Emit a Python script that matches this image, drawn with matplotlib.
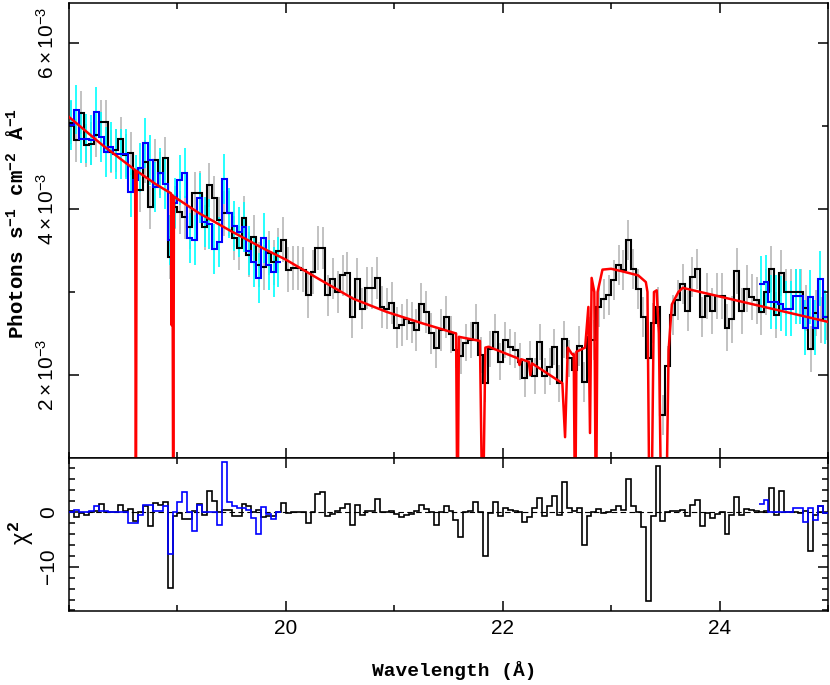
import numpy as np
import matplotlib
matplotlib.use('Agg')
import matplotlib.pyplot as plt
from matplotlib.ticker import FixedLocator, MultipleLocator

plt.rcParams.update({
    'font.family': ['Liberation Sans', 'DejaVu Sans'],
    'mathtext.fontset': 'custom',
    'mathtext.rm': 'Liberation Mono:bold',
    'mathtext.bf': 'Liberation Mono:bold',
    'mathtext.it': 'Liberation Sans',
    'mathtext.sf': 'Liberation Sans',
    'axes.linewidth': 1.1,
    'xtick.direction': 'in',
    'ytick.direction': 'in',
    'xtick.top': True,
    'ytick.right': True,
})

# wavelength grid (Angstrom)
wave_min, wave_max = 18.0, 25.0
n_bins = 154

# instrument 1 (black), flux in 1e-3 photons/s/cm2/A
black_flux = [
    5.04, 4.83, 5.16, 4.77, 4.79, 4.89, 5.05, 5.05, 4.69, 4.71,
    4.85, 4.65, 4.67, 4.23, 4.23, 4.57, 4.02, 4.59, 4.43, 4.61,
    3.42, 4.02, 3.96, 3.90, 3.78, 4.19, 4.19, 3.78, 4.29, 4.13,
    3.87, 3.95, 3.95, 3.65, 3.53, 3.89, 3.45, 3.66, 3.33, 3.30,
    3.47, 3.36, 3.50, 3.63, 3.27, 3.29, 3.29, 3.27, 2.96, 3.24,
    3.53, 3.53, 2.96, 3.16, 3.00, 3.20, 3.23, 2.70, 3.16, 2.80,
    3.05, 3.05, 3.17, 2.82, 2.80, 2.87, 2.57, 2.60, 2.67, 2.63,
    2.54, 2.86, 2.76, 2.50, 2.33, 2.54, 2.70, 2.49, 2.30, 2.23,
    2.39, 2.42, 2.63, 2.24, 1.90, 2.31, 2.52, 2.16, 2.42, 2.34,
    2.30, 2.16, 1.96, 2.19, 1.99, 2.40, 1.99, 2.10, 2.34, 1.90,
    2.43, 2.20, 2.06, 2.35, 1.92, 2.46, 2.42, 2.82, 2.92, 2.96,
    3.14, 3.33, 3.27, 3.63, 3.28, 3.04, 2.70, 2.20, 2.63, 2.82,
    1.52, 2.11, 2.72, 2.90, 3.10, 2.77, 3.18, 3.28, 2.70, 2.95,
    2.77, 2.95, 2.95, 2.57, 2.67, 3.25, 2.77, 3.04, 2.94, 2.90,
    2.76, 3.00, 3.28, 2.72, 3.23, 3.00, 3.00, 3.00, 3.00, 2.81,
    2.31, 2.75, 2.66, 2.70,
]
black_err = [0.26] * 26 + [0.27] * 25 + [0.25] * 26 + [0.22] * 26 + [0.24] * 26 + [0.28] * 25
black_chi = [
    0.1, -0.9, -0.2, -0.5, 0.0, 0.1, 1.5, 0.0, 0.0, 0.0,
    1.3, 0.2, 0.5, -1.7, 0.0, 1.0, -2.5, 1.6, 1.2, 1.8,
    -13.9, -0.7, -0.2, -1.2, -1.2, 0.2, 1.5, -0.5, 3.9, 2.0,
    0.0, 0.4, 0.4, -0.8, -0.8, 1.5, 1.0, 0.0, 0.3, -0.9,
    -0.8, -0.8, 0.0, 1.6, -0.2, 0.0, 0.0, 0.0, -2.1, 0.0,
    3.2, 3.6, -0.8, -0.3, 0.2, 0.7, 1.5, -2.3, 1.3, -0.5,
    0.2, 0.2, 2.4, 0.0, 0.0, 0.2, -0.3, -0.9, -0.5, -0.3,
    0.1, 1.3, 0.5, 0.0, -2.3, 0.0, 1.0, 0.1, -1.4, -4.5,
    0.0, 0.1, 1.8, 0.0, -8.1, -0.2, 1.8, -0.7, 0.7, 0.3,
    0.1, 0.0, -1.8, -0.9, 0.7, 2.6, -0.7, 1.0, 3.0, -0.5,
    5.4, 0.7, 0.2, 0.7, -6.0, -0.7, 0.0, 0.5, -0.2, 0.0,
    0.4, 1.0, 0.3, 6.0, 1.0, 0.0, -2.8, -16.2, -0.7, 8.4,
    -1.7, 0.0, 0.1, 0.1, 0.4, -0.8, 1.2, 2.1, -2.5, -0.2,
    -1.1, -0.3, 0.0, -4.1, -0.5, 2.7, -0.5, 0.5, 0.3, 0.1,
    0.0, 0.2, 4.4, -0.5, 3.8, 0.0, 0.0, 0.0, -0.2, 0.2,
    -7.2, -0.5, 1.0, -0.2,
]

# instrument 2 (blue), two stretches
blue_left_start = 18.0
blue_left_flux = [
    5.01, 5.20, 4.85, 4.85, 4.83, 5.17, 4.87, 4.69, 4.75, 4.66,
    4.66, 4.66, 4.20, 4.35, 4.50, 4.80, 4.59, 4.27, 4.43, 4.30,
    3.63, 4.07, 4.35, 4.43, 3.65, 3.63, 4.13, 3.84, 3.82, 3.52,
    3.60, 4.36, 3.95, 3.80, 3.72, 3.78, 3.50, 3.36, 3.17, 3.65,
    3.33, 3.24, 3.36,
]
blue_left_err = [0.30] * 43
blue_left_chi = [
    0.0, 0.4, 0.0, 0.0, 0.2, 1.0, 0.2, 0.2, 0.0, 0.0,
    0.0, 0.0, -2.1, -2.1, -0.5, 1.2, 1.2, 0.2, 0.2, 1.0,
    -7.7, 0.0, 1.8, 3.7, 0.0, -3.4, 1.2, 0.0, 0.0, 0.0,
    -2.3, 9.1, 1.8, 1.0, 0.7, 0.7, 0.4, -1.1, -4.0, 0.9,
    -0.3, -1.2, 0.0,
]
blue_right_start = 24.36
blue_right_flux = [3.10, 3.12, 2.88, 2.88, 2.86, 2.80, 2.80, 2.95, 2.95, 2.57, 2.94, 2.57, 3.16, 2.70]
blue_right_err = [0.33] * 14
blue_right_chi = [1.4, 2.1, 0.0, 0.0, 0.0, 0.0, 0.0, 0.7, 0.7, -1.9, 0.7, -1.4, 1.0, -0.2]

# best-fit model (red)
model_wave = [
    18.00, 18.30, 18.610, 18.617, 18.624, 18.80, 18.940, 18.947, 18.954, 18.961,
    18.968, 19.20, 19.50, 19.80, 20.00, 20.30, 20.62, 20.93, 21.24, 21.570,
    21.583, 21.596, 21.790, 21.815, 21.840, 21.87, 22.14, 22.155, 22.17, 22.24,
    22.255, 22.27, 22.55, 22.575, 22.60, 22.64, 22.655, 22.668, 22.68, 22.76,
    22.79, 22.805, 22.82, 22.845, 22.860, 22.875, 22.92, 23.00, 23.10, 23.25,
    23.32, 23.335, 23.355, 23.37, 23.395, 23.42, 23.44, 23.465, 23.505, 23.53,
    23.56, 23.62, 23.66, 25.00,
]
model_flux = [
    5.11, 4.78, 4.47, 0.0, 4.46, 4.30, 4.19, 2.60, 4.17, 0.0,
    4.15, 3.95, 3.73, 3.52, 3.39, 3.16, 2.92, 2.76, 2.63, 2.50,
    0.0, 2.46, 2.41, 0.0, 2.33, 2.34, 2.20, 2.12, 2.19, 2.16,
    2.00, 2.14, 1.90, 1.25, 2.33, 2.25, 2.25, 0.0, 2.28, 2.33,
    2.82, 1.30, 3.17, 3.00, 0.0, 3.00, 3.27, 3.28, 3.25, 3.20,
    3.12, 3.00, 0.0, 0.0, 3.00, 3.02, 2.50, 0.0, 0.0, 2.30,
    2.85, 3.00, 3.05, 2.64,
]

scale = 1e-3
width = (wave_max - wave_min) / n_bins
edges = np.linspace(wave_min, wave_max, n_bins + 1)
centers = 0.5 * (edges[:-1] + edges[1:])


def seg_edges(start, n):
    return start + width * np.arange(n + 1)


bl_edges = seg_edges(blue_left_start, len(blue_left_flux))
br_edges = seg_edges(blue_right_start, len(blue_right_flux))

W, H = 830, 685
fig = plt.figure(figsize=(W / 100, H / 100), dpi=100)
ax = fig.add_axes([69 / W, 1 - 457.5 / H, 759 / W, 455 / H])
ax2 = fig.add_axes([69 / W, 1 - 611 / H, 759 / W, 153.5 / H], sharex=ax)

# spectrum panel
ax.errorbar(centers, np.array(black_flux) * scale, yerr=np.array(black_err) * scale,
            fmt='none', ecolor='#b8b8b8', elinewidth=1.2, capsize=0, zorder=1)
for e, f, er in [(bl_edges, blue_left_flux, blue_left_err), (br_edges, blue_right_flux, blue_right_err)]:
    c = 0.5 * (e[:-1] + e[1:])
    ax.errorbar(c, np.array(f) * scale, yerr=np.array(er) * scale,
                fmt='none', ecolor='#00ffff', elinewidth=1.2, capsize=0, zorder=1)
ax.stairs(np.array(black_flux) * scale, edges, baseline=None, color='black', lw=1.5, zorder=2)
ax.stairs(np.array(blue_left_flux) * scale, bl_edges, baseline=None, color='#0000ff', lw=1.5, zorder=2.5)
ax.stairs(np.array(blue_right_flux) * scale, br_edges, baseline=None, color='#0000ff', lw=1.5, zorder=2.5)
ax.plot(model_wave, np.array(model_flux) * scale, color='#ff0000', lw=1.8, zorder=4)

ax.set_xlim(wave_min, wave_max)
ax.set_ylim(1.005e-3, 6.49e-3)
ax.xaxis.set_major_locator(MultipleLocator(2))
ax.xaxis.set_minor_locator(MultipleLocator(1))
ax.set_yticks([2e-3, 4e-3, 6e-3])
ax.set_yticklabels([r'$\mathsf{%d\times10^{-3}}$' % k for k in (2, 4, 6)],
                   rotation=90, va='center', fontsize=15)
ax.yaxis.set_minor_locator(FixedLocator([3e-3, 5e-3]))
ax.tick_params(axis='x', labelbottom=False)

# residual panel
ax2.axhline(0, color='black', lw=0.8, ls=(0, (5, 3)), zorder=1)
ax2.stairs(black_chi, edges, baseline=None, color='black', lw=1.2, zorder=2)
ax2.stairs(blue_left_chi, bl_edges, baseline=None, color='#0000ff', lw=1.2, zorder=3)
ax2.stairs(blue_right_chi, br_edges, baseline=None, color='#0000ff', lw=1.2, zorder=3)
ax2.set_ylim(-18.1, 9.95)
ax2.set_yticks([-10, 0])
ax2.set_yticklabels(['\u221210', '0'], rotation=90, va='center', fontsize=15)
ax2.yaxis.set_minor_locator(MultipleLocator(2))
ax2.set_xticks([20, 22, 24])
ax2.set_xticklabels(['20', '22', '24'], fontsize=15)

for a in (ax, ax2):
    a.tick_params(which='major', length=7.5, width=1.1, pad=8)
    a.tick_params(which='minor', length=4, width=1.1)
    a.tick_params(axis='x', pad=6)

mono = dict(family='Liberation Mono', weight='bold')
fig.text(17 / W, 1 - 223 / H, r'Photons s$^{-1}$ cm$^{-2}$ Å$^{-1}$', rotation=90,
         ha='center', va='center', fontsize=15, **mono)
fig.text(21 / W, 1 - 533 / H, r'$\chi^2$', rotation=90, ha='center', va='center', fontsize=17)
fig.text(454 / W, 1 - 671 / H, 'Wavelength (Å)', ha='center', va='center', fontsize=14, **mono)

fig.savefig('out.png', dpi=100)
